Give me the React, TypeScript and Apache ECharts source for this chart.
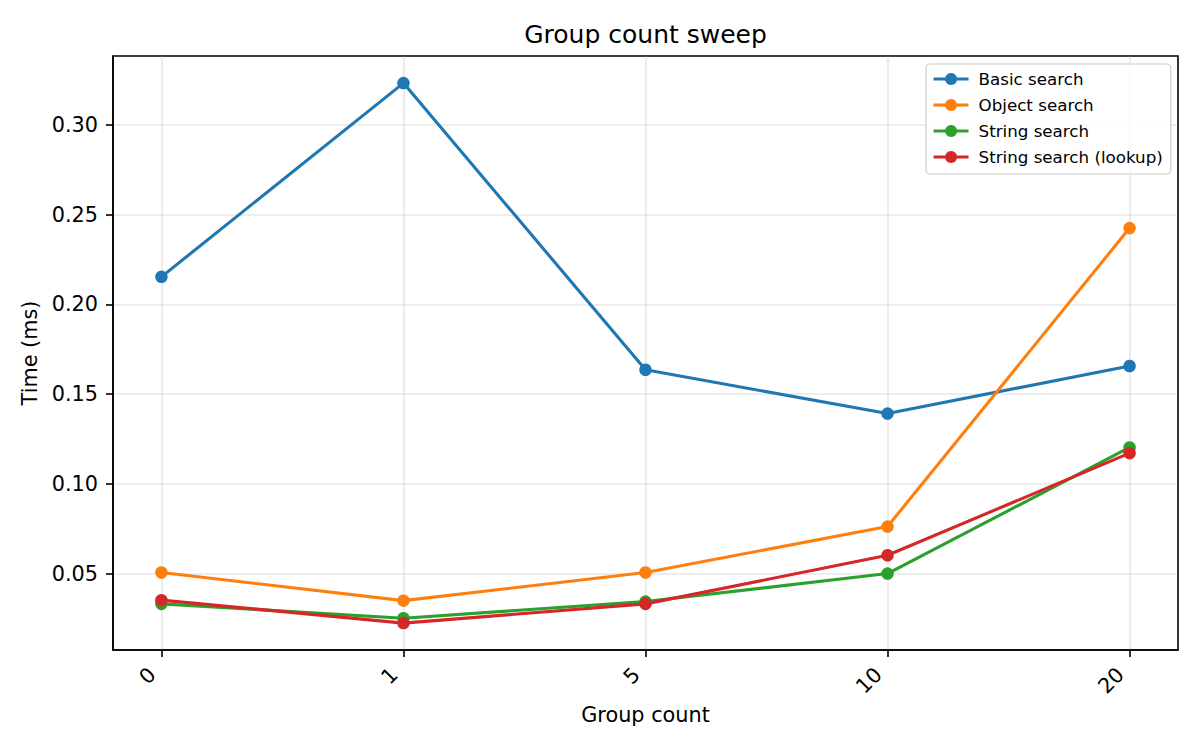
import React, { useEffect, useRef } from "react";
import * as echarts from "echarts";

const categories = ["0", "1", "5", "10", "20"];
const seriesNames = ["Basic search", "Object search", "String search", "String search (lookup)"];
const basicSearch = [0.2154, 0.3234, 0.1636, 0.1392, 0.1657];
const objectSearch = [0.0506, 0.0349, 0.0506, 0.0762, 0.2426];
const stringSearch = [0.0331, 0.0251, 0.0344, 0.0500, 0.1203];
const stringLookup = [0.0352, 0.0224, 0.0331, 0.0602, 0.1171];
const yTicks = [0.05, 0.1, 0.15, 0.2, 0.25, 0.3];
const colors = ["#1f77b4", "#ff7f0e", "#2ca02c", "#d62728"];

const FONT = "DejaVu Sans";

export default function App() {
  const ref = useRef<HTMLDivElement>(null);
  useEffect(() => {
    document.body.style.margin = "0";
    const chart = echarts.init(ref.current!, null, { renderer: "svg" });
    const all = [basicSearch, objectSearch, stringSearch, stringLookup];
    const xIdx = categories.map((_, i) => i);
    const option: any = {
      animation: false,
      backgroundColor: "#ffffff",
      textStyle: { fontFamily: FONT },
      graphic: [
        {
          type: "text",
          x: 645.5,
          y: 22,
          style: {
            text: "Group count sweep",
            fontFamily: FONT,
            fontSize: 25,
            fill: "#000",
            textAlign: "center",
            textVerticalAlign: "top",
          },
        },
      ],
      grid: {
        left: 113,
        right: 22,
        top: 56,
        bottom: 100,
        show: true,
        borderColor: "#000",
        borderWidth: 1.6,
        backgroundColor: "transparent",
      },
      legend: {
        orient: "vertical",
        left: 926,
        top: 64,
        padding: [6, 8, 8, 6],
        itemWidth: 35,
        itemHeight: 15,
        itemGap: 8,
        lineStyle: { width: 3.1 },
        backgroundColor: "rgba(255,255,255,0.8)",
        borderColor: "#cccccc",
        borderWidth: 1.2,
        borderRadius: 4,
        textStyle: {
          fontFamily: FONT,
          fontSize: 16.7,
          color: "#000",
          lineHeight: 18,
          padding: [0, 0, 0, 5],
        },
        data: seriesNames,
      },
      xAxis: {
        type: "value",
        min: -0.2,
        max: 4.2,
        name: "Group count",
        nameLocation: "middle",
        nameGap: 52,
        nameTextStyle: { fontFamily: FONT, fontSize: 20.8, color: "#000" },
        axisLine: { show: true, onZero: false, lineStyle: { color: "#000", width: 1.6 } },
        axisTick: {
          show: true,
          customValues: xIdx,
          length: 7,
          inside: false,
          lineStyle: { color: "#000", width: 1.6 },
        },
        axisLabel: {
          customValues: xIdx,
          rotate: 45,
          margin: 12,
          padding: [0, 13, 0, 0],
          fontFamily: FONT,
          fontSize: 20.8,
          color: "#000",
          formatter: (v: number) => categories[Math.round(v)] ?? "",
        },
        splitLine: { show: true, lineStyle: { color: "#b0b0b0", opacity: 0.3, width: 1.6 } },
      },
      yAxis: {
        type: "value",
        min: 0.0074,
        max: 0.3385,
        name: "Time (ms)",
        nameLocation: "middle",
        nameGap: 73,
        nameTextStyle: { fontFamily: FONT, fontSize: 20.8, color: "#000" },
        axisLine: { show: true, onZero: false, lineStyle: { color: "#000", width: 1.6 } },
        axisTick: {
          show: true,
          customValues: yTicks,
          length: 7,
          inside: false,
          lineStyle: { color: "#000", width: 1.6 },
        },
        axisLabel: {
          customValues: yTicks,
          margin: 15,
          fontFamily: FONT,
          fontSize: 20.8,
          color: "#000",
          formatter: (v: number) => v.toFixed(2),
        },
        splitLine: { show: true, lineStyle: { color: "#b0b0b0", opacity: 0.3, width: 1.6 } },
      },
      series: all.map((arr, k) => ({
        name: seriesNames[k],
        type: "line",
        data: arr.map((v, i) => [xIdx[i], v]),
        symbol: "circle",
        symbolSize: 12.5,
        showAllSymbol: true,
        color: colors[k],
        lineStyle: { color: colors[k], width: 3.1 },
        itemStyle: { color: colors[k] },
        emphasis: { disabled: true },
        z: 2 + k,
      })),
    };
    chart.setOption(option);
    return () => chart.dispose();
  }, []);
  return <div ref={ref} style={{ width: 1200, height: 750 }} />;
}
